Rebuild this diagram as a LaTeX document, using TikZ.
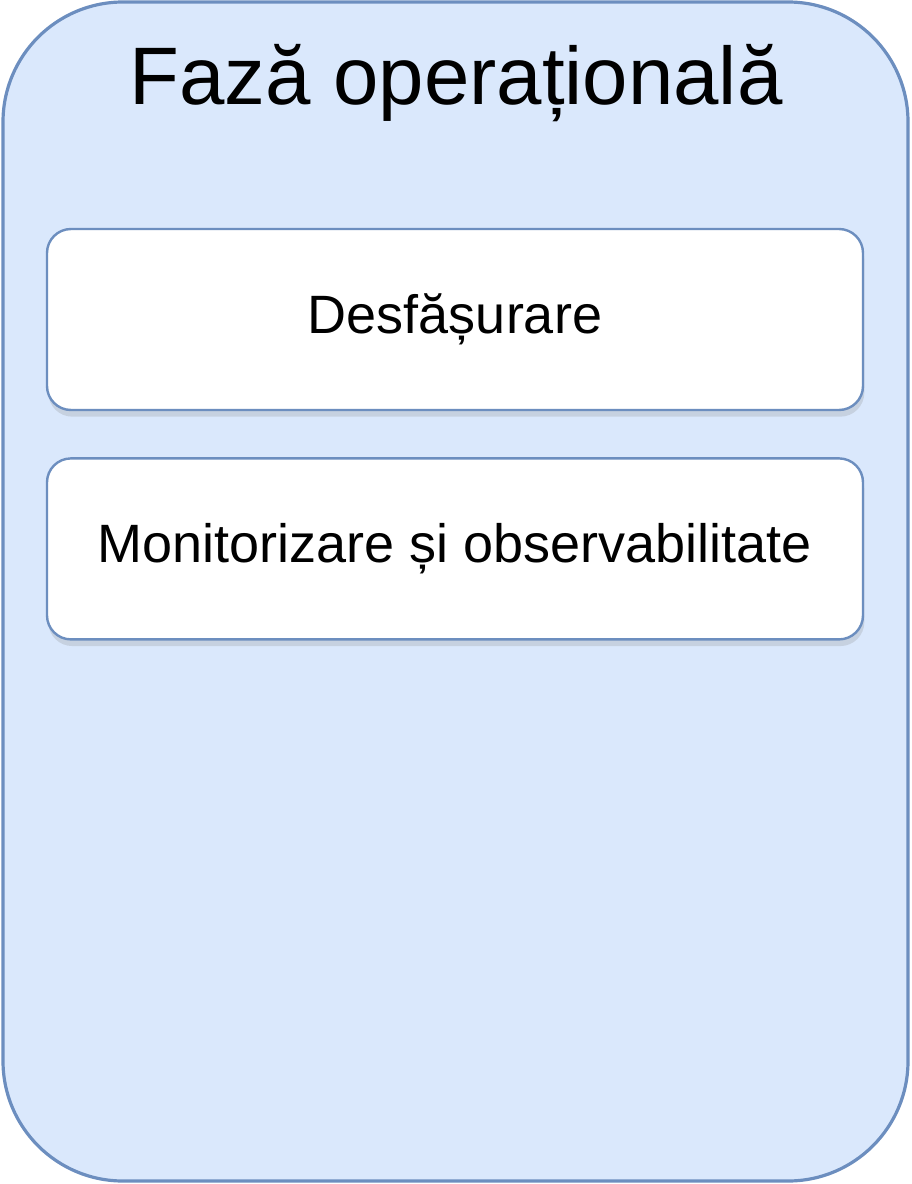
\documentclass[tikz,border=0pt]{standalone}
\usepackage{fontspec}
\setmainfont{Liberation Sans}
\usepackage{tikz}
\usetikzlibrary{positioning,shadows}
\definecolor{phasefill}{HTML}{DAE8FC}
\definecolor{phaseline}{HTML}{6C8EBF}

\begin{document}
\begin{tikzpicture}[x=0.75pt,y=0.75pt,yscale=-1,xscale=1,
  phasebox/.style={draw=phaseline, line width=2.4pt, fill=phasefill, rounded corners=90pt},
  stepbox/.style={draw=phaseline, line width=1.8pt, fill=white, rounded corners=18pt, minimum width=612pt, minimum height=135.75pt, inner sep=0pt, drop shadow={opacity=0.22, shadow xshift=1pt, shadow yshift=-5pt}, font=\fontsize{40.5}{48}\selectfont, text=black}]
\useasboundingbox (0,0) rectangle (912,1184);

%Shape: Rounded Rect [id:phase]
\node [phasebox, minimum width=678.75pt, minimum height=884.25pt] (phase) at (455.5,591.5) {};
% Text Node
\node [anchor=base, font=\fontsize{61.2}{70}\selectfont] (title) at (456,105) {Fază operațională};

%Shape: Rounded Rect [id:deploy]
\node [stepbox] (deploy) at (455,319.5) {Desfășurare};
%Shape: Rounded Rect [id:monitor]
\node [stepbox, below=34.5pt of deploy] (monitor) {Monitorizare și observabilitate};
\end{tikzpicture}
\end{document}
